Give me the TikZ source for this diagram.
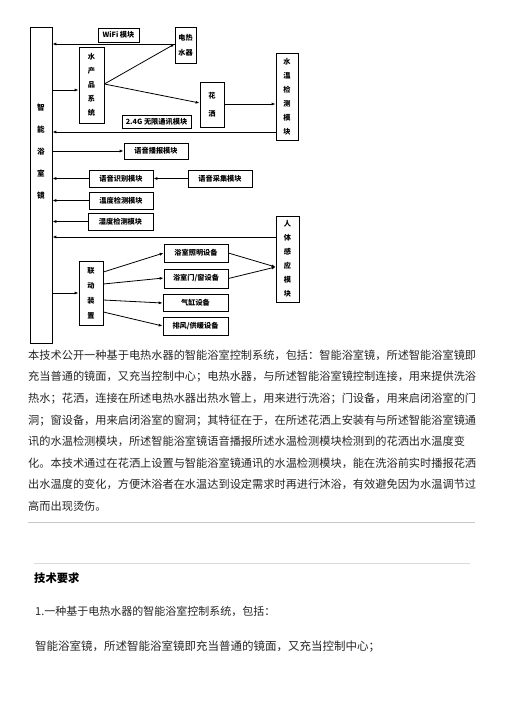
\documentclass[tikz,border=0pt]{standalone}
\usepackage{fontspec}
\setmainfont{Liberation Serif}
\newfontfamily\cjk{Noto Sans CJK SC}
\usetikzlibrary{arrows.meta}
\begin{document}
\begin{tikzpicture}[x=1pt,y=-1pt,
  box/.style={draw, line width=0.7pt, inner sep=0pt, font=\cjk\bfseries\fontsize{7.2}{14}\selectfont, align=center},
  arr/.style={line width=0.8pt, -{Latex[length=4pt,width=3pt]}},
  ln/.style={line width=0.8pt},
  para/.style={anchor=base west, inner sep=0pt, font=\cjk\fontsize{11.2}{21.6}\selectfont, text=black!85},
  rule/.style={draw=black!22, line width=0.8pt}]
\useasboundingbox (0,0) rectangle (504,713);
\fill[white] (0,0) rectangle (504,713);
% boxes
\node[box, minimum width=22pt, minimum height=316pt] (mirror) at (41,185) {};
\node[font=\cjk\bfseries\fontsize{7.6}{22}\selectfont, align=center, inner sep=0pt] (mirrorlbl) at (41,152) {智\\能\\浴\\室\\镜};
\node[box, minimum width=41pt, minimum height=14pt] (wifi) at (118.5,35) {WiFi 模块};
\node[box, minimum width=21pt, minimum height=36pt, font=\cjk\bfseries\fontsize{7.2}{15}\selectfont] (heater) at (185.5,45) {电热\\水器};
\node[box, minimum width=25pt, minimum height=76pt] (system) at (91.5,85) {水\\产\\品\\系\\统};
\node[box, minimum width=24pt, minimum height=45pt, font=\cjk\bfseries\fontsize{7.2}{18}\selectfont] (shower) at (212,104.5) {花\\洒};
\node[box, minimum width=22pt, minimum height=87pt] (wtemp) at (287,96.5) {水\\温\\检\\测\\模\\块};
\node[box, minimum width=69pt, minimum height=13pt] (g24) at (156.5,121.5) {2.4G 无限通讯模块};
\node[box, minimum width=64pt, minimum height=16pt] (bcast) at (156,151) {语音播报模块};
\node[box, minimum width=64pt, minimum height=17pt] (recog) at (121,178.5) {语音识别模块};
\node[box, minimum width=64pt, minimum height=17pt] (collect) at (220,178.5) {语音采集模块};
\node[box, minimum width=64pt, minimum height=17pt] (temp) at (121,200.5) {温度检测模块};
\node[box, minimum width=65pt, minimum height=17pt] (humid) at (120.5,221.5) {湿度检测模块};
\node[box, minimum width=23pt, minimum height=86pt] (human) at (287.5,259) {人\\体\\感\\应\\模\\块};
\node[box, minimum width=24pt, minimum height=64pt, font=\cjk\bfseries\fontsize{7.2}{15}\selectfont] (link) at (91,293) {联\\动\\装\\置};
\node[box, minimum width=64pt, minimum height=18pt] (light) at (196,253) {浴室照明设备};
\node[box, minimum width=64pt, minimum height=19pt] (door) at (196,278.5) {浴室门/窗设备};
\node[box, minimum width=65pt, minimum height=17pt] (cyl) at (195.5,302.5) {气缸设备};
\node[box, minimum width=65pt, minimum height=18pt] (exh) at (195.5,326) {排风/供暖设备};
% connectors
\draw[arr] ([yshift=1pt]heater.west) -- ([yshift=1pt]heater.west -| mirror.east);
\draw[arr] ([yshift=-5pt]system.west -| mirror.east) -- ([yshift=-5pt]system.west);
\draw[arr] ([yshift=1pt]system.east) -- ([yshift=1pt]heater.west);
\draw[arr] ([yshift=1pt]system.east) -- ([yshift=1.5pt]shower.west);
\draw[arr] ([yshift=0.5pt]shower.east) -- ([yshift=0.5pt]shower.east -| wtemp.west);
\draw[arr] ([yshift=-35.5pt]wtemp.west) -- ([yshift=-35.5pt]wtemp.west -| mirror.east);
\draw[arr] (bcast.west -| mirror.east) -- (bcast.west);
\draw[arr] (recog.west) -- (recog.west -| mirror.east);
\draw[arr] (collect.west) -- (recog.east);
\draw[arr] (temp.west) -- (temp.west -| mirror.east);
\draw[arr] (humid.west) -- (humid.west -| mirror.east);
\draw[arr] ([yshift=22pt]human.west) -- ([yshift=22pt]human.west -| mirror.east);
\draw[arr] (link.west -| mirror.east) -- (link.west);
\draw[arr] ([yshift=21pt]link.east) -- (light.west);
\draw[arr] ([yshift=9pt]link.east) -- ([yshift=0.5pt]door.west);
\draw[arr] ([yshift=-7pt]link.east) -- ([yshift=-0.5pt]cyl.west);
\draw[arr] ([yshift=-19pt]link.east) -- (exh.west);
\draw[arr] (light.east) -- ([yshift=-8pt]human.west);
\draw[arr] (door.east) -- ([yshift=-8pt]human.west);
% paragraph
\node[para] (p1) at (28,359.2) {本技术公开一种基于电热水器的智能浴室控制系统，包括：智能浴室镜，所述智能浴室镜即};
\node[para] (p2) at (28,380.8) {充当普通的镜面，又充当控制中心；电热水器，与所述智能浴室镜控制连接，用来提供洗浴};
\node[para] (p3) at (28,402.4) {热水；花洒，连接在所述电热水器出热水管上，用来进行洗浴；门设备，用来启闭浴室的门};
\node[para] (p4) at (28,424.0) {洞；窗设备，用来启闭浴室的窗洞；其特征在于，在所述花洒上安装有与所述智能浴室镜通};
\node[para] (p5) at (28,445.6) {讯的水温检测模块，所述智能浴室镜语音播报所述水温检测模块检测到的花洒出水温度变};
\node[para] (p6) at (28,467.2) {化。本技术通过在花洒上设置与智能浴室镜通讯的水温检测模块，能在洗浴前实时播报花洒};
\node[para] (p7) at (28,488.8) {出水温度的变化，方便沐浴者在水温达到设定需求时再进行沐浴，有效避免因为水温调节过};
\node[para] (p8) at (28,510.4) {高而出现烫伤。};
\draw[rule] (28,522.5) -- (475,522.5);
\draw[rule, draw=black!15] (34,563) -- (470,563);
\node[para, font=\cjk\bfseries\fontsize{11.3}{14}\selectfont, text=black] (req) at (34,582.2) {技术要求};
\node[para, font=\cjk\fontsize{11}{14}\selectfont] (c1) at (35,615.2) {1.一种基于电热水器的智能浴室控制系统，包括：};
\node[para, font=\cjk\fontsize{11.5}{14}\selectfont] (c2) at (35,650.2) {智能浴室镜，所述智能浴室镜即充当普通的镜面，又充当控制中心；};
\end{tikzpicture}
\end{document}
